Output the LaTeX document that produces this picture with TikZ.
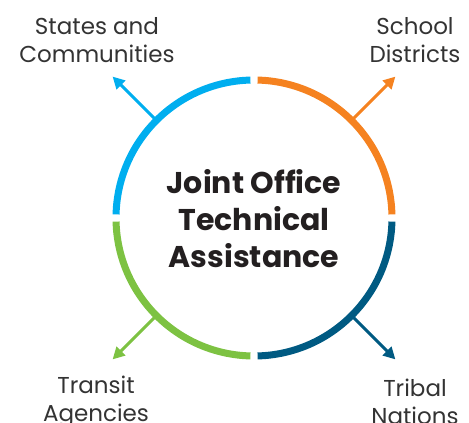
\documentclass[tikz,border=0pt]{standalone}
\usepackage{fontspec}
\setmainfont{Poppins}
\usetikzlibrary{arrows.meta}
\definecolor{statesblue}{HTML}{00AEEF}
\definecolor{schoolorange}{HTML}{F58220}
\definecolor{tribalblue}{HTML}{005A82}
\definecolor{transitgreen}{HTML}{7DC242}
\definecolor{labelgray}{HTML}{333333}
\definecolor{titleblack}{HTML}{231F20}

\begin{document}
\begin{tikzpicture}[x=1pt,y=1pt,
  ring/.style={line width=7pt},
  spoke/.style={line width=3pt,-{Triangle[length=12pt,width=12pt]}},
  grouplabel/.style={font=\fontsize{23}{28}\selectfont,align=center,text=labelgray},
  title/.style={font=\fontsize{30}{37}\selectfont\bfseries,align=center,text=titleblack}]
\useasboundingbox (-254,-205) rectangle (215,218);

% ring, four quarters
\draw[ring,schoolorange] (1.5:138) arc (1.5:88.5:138);
\draw[ring,statesblue] (91.5:138) arc (91.5:178.5:138);
\draw[ring,transitgreen] (181.5:138) arc (181.5:268.5:138);
\draw[ring,tribalblue] (271.5:138) arc (271.5:358.5:138);

% spokes
\coordinate (schoolbase) at (45:138);
\coordinate (schooltip) at (45:200);
\coordinate (statesbase) at (135:138);
\coordinate (statestip) at (135:200);
\coordinate (transitbase) at (225:138);
\coordinate (transittip) at (225:200);
\coordinate (tribalbase) at (315:138);
\coordinate (tribaltip) at (315:200);
\draw[spoke,schoolorange] (schoolbase) -- (schooltip);
\draw[spoke,statesblue] (statesbase) -- (statestip);
\draw[spoke,transitgreen] (transitbase) -- (transittip);
\draw[spoke,tribalblue] (tribalbase) -- (tribaltip);

% labels
\node[title] (joint) at (0,-1) {Joint Office\\Technical\\Assistance};
\node[grouplabel] (states) at (-157,178) {States and\\Communities};
\node[grouplabel] (school) at (161,178) {School\\Districts};
\node[grouplabel] (transit) at (-158,-184) {Transit\\Agencies};
\node[grouplabel] (tribal) at (161,-184) {Tribal\\Nations};
\end{tikzpicture}
\end{document}
